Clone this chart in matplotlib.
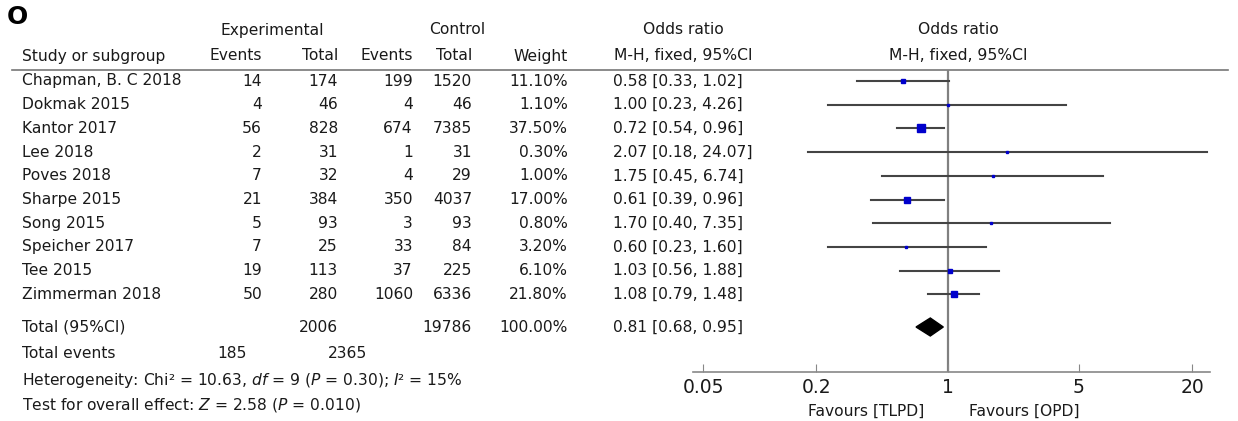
import matplotlib
matplotlib.use('Agg')
import matplotlib.pyplot as plt
import numpy as np

# Данные исследований
studies = ['Chapman, B. C 2018', 'Dokmak 2015', 'Kantor 2017', 'Lee 2018', 'Poves 2018',
           'Sharpe 2015', 'Song 2015', 'Speicher 2017', 'Tee 2015', 'Zimmerman 2018']
exp_events = [14, 4, 56, 2, 7, 21, 5, 7, 19, 50]
exp_total = [174, 46, 828, 31, 32, 384, 93, 25, 113, 280]
ctl_events = [199, 4, 674, 1, 4, 350, 3, 33, 37, 1060]
ctl_total = [1520, 46, 7385, 31, 29, 4037, 93, 84, 225, 6336]
weights = [11.10, 1.10, 37.50, 0.30, 1.00, 17.00, 0.80, 3.20, 6.10, 21.80]
odds = [0.58, 1.00, 0.72, 2.07, 1.75, 0.61, 1.70, 0.60, 1.03, 1.08]
ci_low = [0.33, 0.23, 0.54, 0.18, 0.45, 0.39, 0.40, 0.23, 0.56, 0.79]
ci_high = [1.02, 4.26, 0.96, 24.07, 6.74, 0.96, 7.35, 1.60, 1.88, 1.48]

total_or, total_low, total_high = 0.81, 0.68, 0.95
total_exp, total_ctl = 2006, 19786
total_weight = 100.00
events_exp, events_ctl = 185, 2365
xticks = [0.05, 0.2, 1, 5, 20]

W, H = 1238, 421
fig = plt.figure(figsize=(W / 100, H / 100), dpi=100)

# Текстовый слой в пиксельных координатах
ax_t = fig.add_axes([0, 0, 1, 1])
ax_t.set_xlim(0, W)
ax_t.set_ylim(H, 0)
ax_t.axis('off')

fs = 11.2
tc = '#1a1a1a'

ax_t.text(7, 17, 'O', fontsize=18, fontweight='bold', va='center', ha='left', color='black')

# Заголовки
for x, s in [(272, 'Experimental'), (457, 'Control'), (683, 'Odds ratio'), (958, 'Odds ratio')]:
    ax_t.text(x, 30, s, fontsize=fs, ha='center', va='center', color=tc)
ax_t.text(22, 56, 'Study or subgroup', fontsize=fs, ha='left', va='center', color=tc)
for x, s in [(262, 'Events'), (338, 'Total'), (413, 'Events'), (472, 'Total'), (568, 'Weight')]:
    ax_t.text(x, 56, s, fontsize=fs, ha='right', va='center', color=tc)
ax_t.text(683, 56, 'M-H, fixed, 95%CI', fontsize=fs, ha='center', va='center', color=tc)
ax_t.text(958, 56, 'M-H, fixed, 95%CI', fontsize=fs, ha='center', va='center', color=tc)
ax_t.plot([12, 1228], [70, 70], color='#777777', lw=1.2)

row_y0, row_dy = 81, 23.7
for i, name in enumerate(studies):
    y = row_y0 + row_dy * i
    ax_t.text(22, y, name, fontsize=fs, ha='left', va='center', color=tc)
    for x, v in [(262, exp_events[i]), (338, exp_total[i]), (413, ctl_events[i]), (472, ctl_total[i])]:
        ax_t.text(x, y, str(v), fontsize=fs, ha='right', va='center', color=tc)
    ax_t.text(568, y, f'{weights[i]:.2f}%', fontsize=fs, ha='right', va='center', color=tc)
    ax_t.text(613, y, f'{odds[i]:.2f} [{ci_low[i]:.2f}, {ci_high[i]:.2f}]',
              fontsize=fs, ha='left', va='center', color=tc)

y_tot = 327
ax_t.text(22, y_tot, 'Total (95%CI)', fontsize=fs, ha='left', va='center', color=tc)
ax_t.text(338, y_tot, str(total_exp), fontsize=fs, ha='right', va='center', color=tc)
ax_t.text(472, y_tot, str(total_ctl), fontsize=fs, ha='right', va='center', color=tc)
ax_t.text(568, y_tot, f'{total_weight:.2f}%', fontsize=fs, ha='right', va='center', color=tc)
ax_t.text(613, y_tot, f'{total_or:.2f} [{total_low:.2f}, {total_high:.2f}]',
          fontsize=fs, ha='left', va='center', color=tc)

ax_t.text(22, 354, 'Total events', fontsize=fs, ha='left', va='center', color=tc)
ax_t.text(247, 354, str(events_exp), fontsize=fs, ha='right', va='center', color=tc)
ax_t.text(367, 354, str(events_ctl), fontsize=fs, ha='right', va='center', color=tc)
ax_t.text(22, 380, r'Heterogeneity: Chi² = 10.63, $df$ = 9 ($P$ = 0.30); $I$² = 15%',
          fontsize=fs, ha='left', va='center', color=tc)
ax_t.text(22, 405, r'Test for overall effect: $Z$ = 2.58 ($P$ = 0.010)',
          fontsize=fs, ha='left', va='center', color=tc)

ax_t.text(866, 411, 'Favours [TLPD]', fontsize=fs, ha='center', va='center', color=tc)
ax_t.text(1024, 411, 'Favours [OPD]', fontsize=fs, ha='center', va='center', color=tc)

# Лесной график
left_px, right_px, top_px, bot_px = 693, 1210, 70, 372
ax = fig.add_axes([left_px / W, (H - bot_px) / H, (right_px - left_px) / W, (bot_px - top_px) / H])
ax.patch.set_alpha(0)
ppd = (1192 - 703) / np.log10(20 / 0.05)
ax.set_xscale('log')
ax.set_xlim(10 ** (np.log10(0.05) - (703 - left_px) / ppd), 10 ** (np.log10(20) + (right_px - 1192) / ppd))
ax.set_ylim((bot_px - row_y0) / row_dy, (top_px - row_y0) / row_dy)

for i in range(len(studies)):
    ax.plot([ci_low[i], ci_high[i]], [i, i], color='#444444', lw=1.5, zorder=2)
    ms = max(2.0, 1.4 * np.sqrt(weights[i])) * 0.72
    ax.plot(odds[i], i, marker='s', ms=ms, color='#0000cc', mec='#0000cc', zorder=3)

yt = (y_tot - row_y0) / row_dy
dh = 9 / row_dy
ax.fill([total_low, total_or, total_high, total_or], [yt, yt - dh, yt, yt + dh],
        color='black', zorder=3)
ax.axvline(1, color='#808080', lw=1.6, zorder=1)

for s in ['top', 'left', 'right']:
    ax.spines[s].set_visible(False)
ax.spines['bottom'].set_color('#888888')
ax.spines['bottom'].set_linewidth(1.2)
ax.set_yticks([])
ax.set_xticks(xticks)
ax.set_xticklabels([str(t) for t in xticks])
ax.minorticks_off()
ax.tick_params(axis='x', direction='in', length=6, color='#888888', labelsize=13.5,
               labelcolor=tc, pad=4)

fig.savefig('out.png', dpi=100)
